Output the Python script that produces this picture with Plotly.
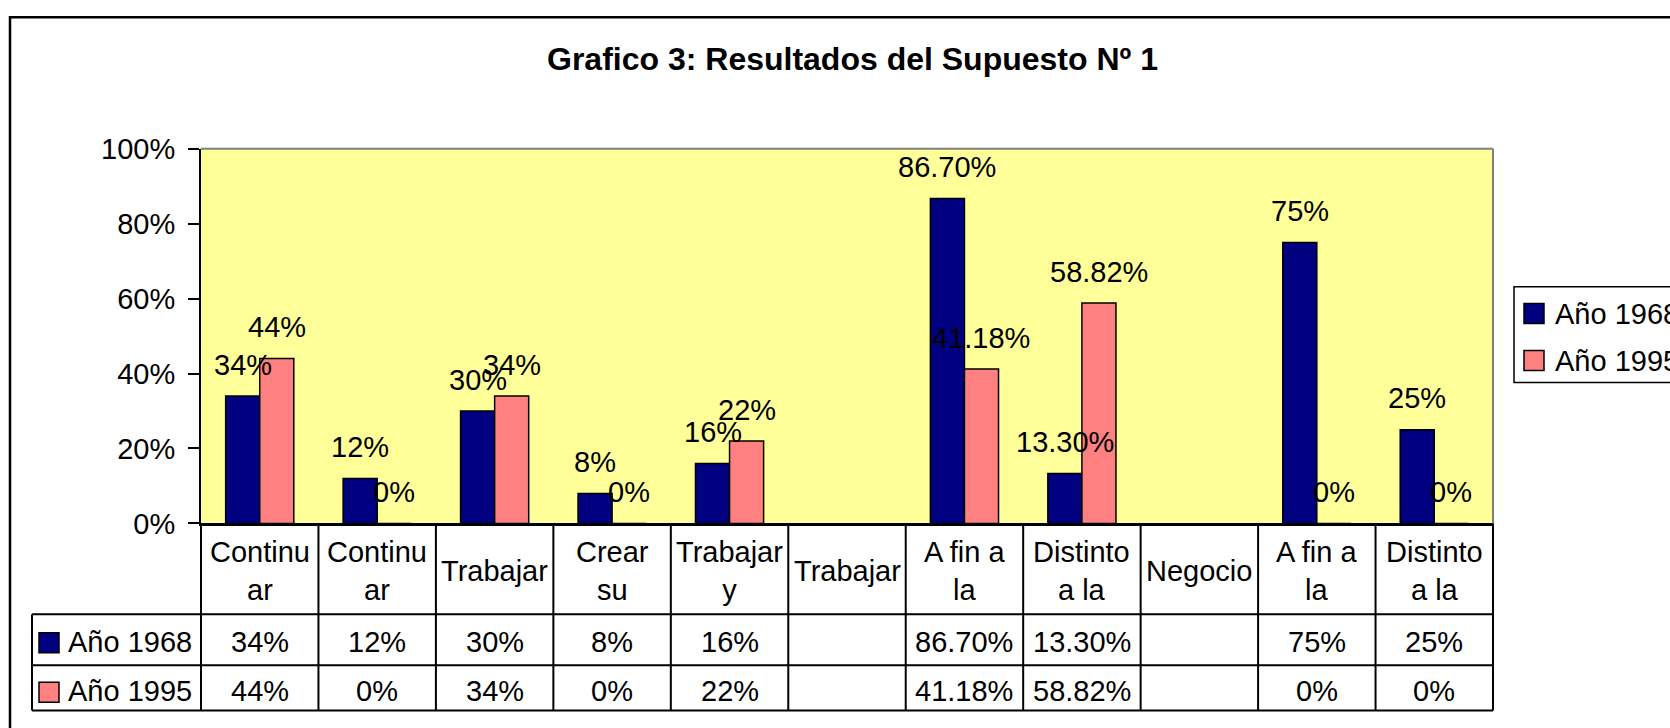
import plotly.graph_objects as go

# ---------------- data ----------------
categories = ["Continu<br>ar", "Continu<br>ar", "Trabajar", "Crear<br>su", "Trabajar<br>y",
              "Trabajar", "A fin a<br>la", "Distinto<br>a la", "Negocio", "A fin a<br>la", "Distinto<br>a la"]
series_names = ["Año 1968", "Año 1995"]
values_1968 = [0.34, 0.12, 0.30, 0.08, 0.16, None, 0.867, 0.133, None, 0.75, 0.25]
values_1995 = [0.44, 0.00, 0.34, 0.00, 0.22, None, 0.4118, 0.5882, None, 0.00, 0.00]
colors = ["#000080", "#FF8080"]
title_text = "Grafico 3: Resultados del Supuesto Nº 1"

W, H = 1670, 728
FONT = "Liberation Sans, Arial, sans-serif"
FS = 29

# vertical calibration of the photographed page (screen y -> page y)
V_OFF, V_SCALE = 14.1, 0.957


def Y(t):
    return min(max((t - V_OFF) / V_SCALE, 1.2), H - 1.5)


# layout positions (target screen pixels)
PL, PR = 201, 1493
PT, PB = Y(147), Y(522)
ROW_HEAD_B, ROW1_B, ROW2_B = Y(613), Y(664), Y(712)
TABLE_L = 32
LABEL_SHIFT = 30 / V_SCALE
KEY = 20 / V_SCALE


def px(x):
    return x / W


def py(y):
    return 1 - y / H


def fmt(v):
    if v is None:
        return ""
    p = v * 100
    if abs(p - round(p)) < 1e-9:
        return f"{int(round(p))}%"
    return f"{p:.2f}%"


n = len(categories)
xs = list(range(n))
series = [values_1968, values_1995]

fig = go.Figure()
for name, vals, col in zip(series_names, series, colors):
    fig.add_trace(go.Bar(
        x=xs, y=vals, name=name,
        marker=dict(color=col, line=dict(color="black", width=1.5)),
        showlegend=False,
    ))

annotations = []
shapes = []

# data labels above bars
for si, vals in enumerate(series):
    shift = -17 if si == 0 else 17
    for i, v in enumerate(vals):
        if v is None:
            continue
        annotations.append(dict(
            x=i, y=v, xref="x", yref="y", text=fmt(v), showarrow=False,
            xshift=shift, yshift=LABEL_SHIFT, yanchor="middle", xanchor="center",
            font=dict(size=FS, color="black", family=FONT)))

# title
annotations.append(dict(
    x=px(853), y=py(Y(57)), xref="paper", yref="paper", text=f"<b>{title_text}</b>",
    showarrow=False, xanchor="center", yanchor="middle",
    font=dict(size=32, color="black", family=FONT)))

# plot-area top/right gray border
shapes.append(dict(type="line", xref="paper", yref="paper",
                   x0=px(PL), x1=px(PR), y0=py(PT), y1=py(PT),
                   line=dict(color="#808080", width=2)))
shapes.append(dict(type="line", xref="paper", yref="paper",
                   x0=px(PR), x1=px(PR), y0=py(PT), y1=py(PB),
                   line=dict(color="#808080", width=2)))

# outer chart frame
shapes.append(dict(type="rect", xref="paper", yref="paper",
                   x0=px(10), x1=px(W + 40), y0=py(Y(12)), y1=py(H + 40),
                   line=dict(color="black", width=2.5), layer="below"))

# ---------- data table ----------
colw = (PR - PL) / n
line_style = dict(color="black", width=2)
for k in range(n + 1):
    xv = PL + k * colw
    shapes.append(dict(type="line", xref="paper", yref="paper",
                       x0=px(xv), x1=px(xv), y0=py(PB), y1=py(ROW2_B), line=line_style))
shapes.append(dict(type="line", xref="paper", yref="paper",
                   x0=px(TABLE_L), x1=px(TABLE_L), y0=py(ROW_HEAD_B), y1=py(ROW2_B), line=line_style))
for yv in (ROW_HEAD_B, ROW1_B, ROW2_B):
    shapes.append(dict(type="line", xref="paper", yref="paper",
                       x0=px(TABLE_L), x1=px(PR), y0=py(yv), y1=py(yv), line=line_style))

# header text
head_c = Y(569.5)
for i, c in enumerate(categories):
    annotations.append(dict(
        x=px(PL + (i + 0.5) * colw), y=py(head_c), xref="paper", yref="paper",
        text=c, showarrow=False, xanchor="center", yanchor="middle",
        font=dict(size=FS, color="black", family=FONT)))

# rows
row_centers = [Y(640.5), Y(690)]
for si, (name, vals, col) in enumerate(zip(series_names, series, colors)):
    rc = row_centers[si]
    shapes.append(dict(type="rect", xref="paper", yref="paper",
                       x0=px(39), x1=px(59), y0=py(rc - KEY / 2 + 1), y1=py(rc + KEY / 2 + 1),
                       fillcolor=col, line=dict(color="black", width=1.5)))
    annotations.append(dict(
        x=px(66), y=py(rc), xref="paper", yref="paper", text=name,
        showarrow=False, xanchor="left", yanchor="middle",
        font=dict(size=FS, color="black", family=FONT)))
    for i, v in enumerate(vals):
        if v is None:
            continue
        annotations.append(dict(
            x=px(PL + (i + 0.5) * colw), y=py(rc), xref="paper", yref="paper",
            text=fmt(v), showarrow=False, xanchor="center", yanchor="middle",
            font=dict(size=FS, color="black", family=FONT)))

# ---------- legend (custom) ----------
LEG_L, LEG_T, LEG_B = 1514, Y(285), Y(381)
shapes.append(dict(type="rect", xref="paper", yref="paper",
                   x0=px(LEG_L), x1=px(W + 40), y0=py(LEG_T), y1=py(LEG_B),
                   line=dict(color="black", width=1.5), fillcolor="white"))
leg_centers = [Y(312), Y(359)]
for si, (name, col) in enumerate(zip(series_names, colors)):
    lc = leg_centers[si]
    shapes.append(dict(type="rect", xref="paper", yref="paper",
                       x0=px(1524), x1=px(1544), y0=py(lc - KEY / 2), y1=py(lc + KEY / 2),
                       fillcolor=col, line=dict(color="black", width=1.5)))
    annotations.append(dict(
        x=px(1553), y=py(lc), xref="paper", yref="paper", text=name,
        showarrow=False, xanchor="left", yanchor="middle",
        font=dict(size=FS, color="black", family=FONT)))

fig.update_layout(
    width=W, height=H,
    margin=dict(l=0, r=0, t=0, b=0),
    paper_bgcolor="white", plot_bgcolor="#FFFF99",
    barmode="group", bargap=0.42, bargroupgap=0,
    font=dict(family=FONT, size=FS, color="black"),
    xaxis=dict(domain=[px(PL), px(PR)], range=[-0.5, n - 0.5],
               showticklabels=False, ticks="", showgrid=False, zeroline=False,
               showline=True, linecolor="black", linewidth=3, fixedrange=True),
    yaxis=dict(domain=[py(PB), py(PT)], range=[0, 1], dtick=0.2, tickformat=".0%",
               ticks="outside", ticklen=11, tickwidth=2, tickcolor="black",
               showgrid=False, zeroline=False, showline=True, linecolor="black",
               linewidth=2, tickfont=dict(size=FS, family=FONT, color="black"),
               ticklabelstandoff=7),
    annotations=annotations, shapes=shapes,
)

fig.write_html("out.html", config={"displayModeBar": False},
               post_script="document.body.style.margin='0';document.body.style.overflow='hidden';")
